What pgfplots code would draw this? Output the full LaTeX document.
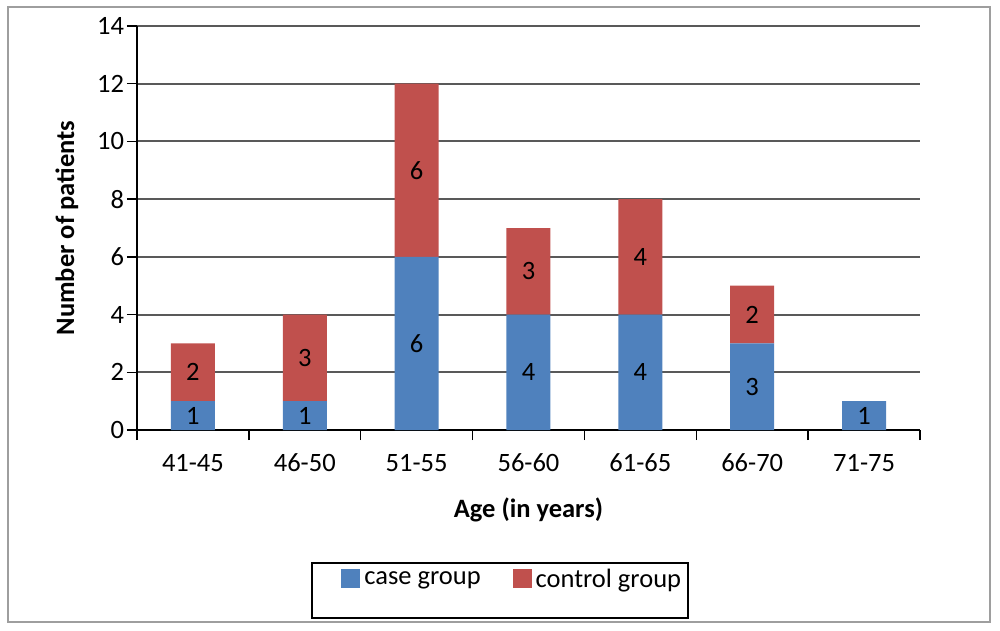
\documentclass[border=0pt]{standalone}
\usepackage{fontspec}
\setmainfont{Carlito}
\usepackage{pgfplots}
\pgfplotsset{compat=1.18}
\definecolor{caseblue}{HTML}{4F81BD}
\definecolor{ctrlred}{HTML}{C0504D}
\newcommand{\chartfont}{\fontsize{13.3}{16}\selectfont}
\pgfplotsset{chartbox/.style={
    scale only axis,
    width=391.5bp,
    height=202bp,
    xmin=-0.5, xmax=6.5,
    ymin=0, ymax=14}}
\begin{document}
\begin{tikzpicture}
\useasboundingbox (-68.5bp,-100.5bp) rectangle (431.5bp,215bp);
\draw[black!38, line width=1.1bp] (-64.5bp,-96bp) rectangle (426.5bp,211.5bp);
\begin{axis}[
    chartbox,
    ybar stacked,
    bar width=22bp,
    ytick={0,2,...,14},
    xtick={0,...,6},
    xticklabels={41-45,46-50,51-55,56-60,61-65,66-70,71-75},
    minor xtick={-0.5,0.5,...,6.5},
    axis lines=left,
    axis line style={-, line width=0.75bp, black},
    tick align=outside,
    major tick length=5bp,
    minor tick length=5bp,
    major x tick style={draw=none},
    minor x tick style={draw=black, line width=0.75bp},
    ytick style={draw=black, line width=0.75bp},
    ymajorgrids=true,
    major grid style={black!65, line width=1bp},
    /pgf/number format/assume math mode=true,
    tick label style={font=\chartfont},
    xticklabel style={yshift=-3.5bp},
    yticklabel style={xshift=2bp},
    xlabel={\bfseries Age (in years)},
    xlabel style={at={(axis description cs:0.5,-0.198)}, anchor=center, font=\chartfont},
    ylabel={\bfseries Number of patients},
    ylabel style={at={(axis description cs:-0.0894,0.5)}, anchor=center, font=\chartfont},
    legend columns=2,
    legend style={draw=none, fill=none, inner sep=0pt,
        at={(axis description cs:0.2605,-0.371)}, anchor=west,
        font=\chartfont,
        /tikz/every even column/.append style={column sep=14bp}},
    legend image code/.code={\fill[#1] (0bp,-4.2bp) rectangle (9.5bp,5.3bp);},
]
% case group
\addplot+[fill=caseblue, draw=none] coordinates {
    (0,1) (1,1) (2,6) (3,4) (4,4) (5,3) (6,1)
};
\addlegendentry{case group}
% control group
\addplot+[fill=ctrlred, draw=none] coordinates {
    (0,2) (1,3) (2,6) (3,3) (4,4) (5,2)
};
\addlegendentry{control group}
\end{axis}
% value labels, set at the middle of each segment
\begin{axis}[chartbox, hide axis, clip=false]
\addplot[draw=none, mark=none, point meta=explicit symbolic,
    nodes near coords,
    every node near coord/.style={anchor=center, font=\chartfont, text=black}]
    coordinates {
    (0,0.5) [1] (1,0.5) [1] (2,3) [6] (3,2) [4] (4,2) [4] (5,1.5) [3] (6,0.5) [1]
    (0,2) [2] (1,2.5) [3] (2,9) [6] (3,5.5) [3] (4,6) [4] (5,4) [2]
};
\end{axis}
\draw[black, line width=0.75bp] (87.5bp,-66.5bp) rectangle (275.5bp,-94bp);
\end{tikzpicture}
\end{document}
